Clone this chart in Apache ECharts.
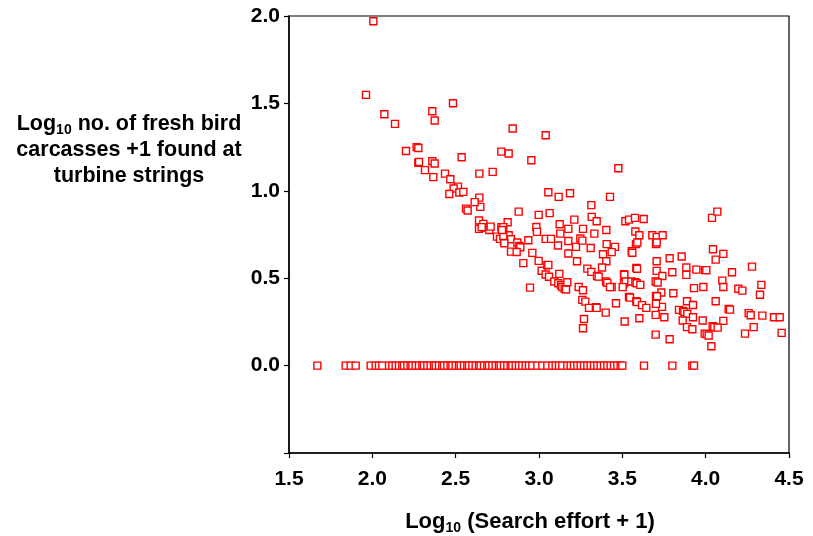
<!DOCTYPE html>
<html>
<head>
<meta charset="utf-8">
<script src="https://cdn.jsdelivr.net/npm/echarts@6/dist/echarts.min.js"></script>
<style>
  html, body { margin: 0; padding: 0; background: #fff; overflow: hidden; }
  #chart { width: 813px; height: 536px; }
</style>
</head>
<body>
<div id="chart"></div>
<script>
// Turbine strings with at least one fresh carcass: log10(search effort + 1)
const effortLog = [
  2.006, 1.962, 2.072, 2.136, 2.202, 2.266, 2.276, 2.276, 2.280, 2.360,
  2.374, 2.484, 2.360, 2.374, 2.316, 2.366, 2.436, 2.468, 2.536, 2.642,
  2.722, 2.774, 2.818, 2.842, 2.954, 3.040, 2.514, 2.488, 2.462, 2.522,
  2.546, 2.642, 3.056, 2.648, 2.614, 2.562, 2.572, 2.640, 2.666, 2.640,
  2.670, 2.702, 2.710, 2.812, 2.774, 2.786, 2.778, 2.748, 2.766, 2.790,
  2.818, 2.832, 2.870, 2.882, 2.888, 2.832, 2.866, 2.878, 2.936, 2.960,
  2.906, 2.998, 2.984, 2.988, 3.040, 2.998, 3.016, 3.040, 3.050, 3.064,
  2.946, 3.060, 3.476, 3.118, 3.186, 3.426, 3.314, 3.212, 3.316, 3.346,
  3.518, 3.540, 3.576, 3.628, 4.038, 4.070, 3.124, 3.176, 3.264, 3.404,
  3.128, 3.332, 3.578, 3.602, 3.680, 3.706, 3.742, 3.072, 3.114, 3.176,
  3.222, 3.248, 3.260, 3.310, 3.406, 3.456, 3.582, 3.590, 3.702, 3.706,
  3.176, 3.384, 3.436, 3.556, 3.560, 4.044, 4.106, 3.056, 3.228, 3.404,
  3.706, 3.784, 3.856, 4.060, 3.122, 3.290, 3.314, 3.378, 3.348, 3.358,
  3.510, 3.512, 3.584, 3.588, 3.706, 3.740, 3.800, 3.884, 3.884, 3.944,
  3.996, 4.004, 4.158, 4.278, 3.092, 3.116, 3.132, 3.140, 3.154, 3.162,
  3.170, 3.238, 3.264, 3.402, 3.410, 3.436, 3.426, 3.510, 3.520, 3.554,
  3.578, 3.586, 3.608, 3.502, 3.700, 3.712, 3.734, 3.806, 3.930, 3.986,
  4.100, 4.106, 4.196, 4.220, 4.326, 4.334, 3.260, 3.278, 3.300, 3.342,
  3.346, 3.400, 3.462, 3.540, 3.546, 3.584, 3.588, 3.618, 3.644, 3.702,
  3.708, 3.738, 3.888, 3.924, 3.840, 3.864, 3.872, 3.890, 3.924, 3.862,
  4.060, 4.138, 4.146, 3.982, 4.106, 4.258, 4.270, 4.340, 4.410, 4.444,
  4.456, 4.236, 4.288, 4.042, 4.052, 4.072, 3.994, 4.006, 4.018, 4.034,
  3.888, 3.920, 3.784, 3.700, 3.602, 3.514, 3.270, 3.264, 3.702, 3.752,
  3.700, 2.786, 2.792, 2.778, 2.656
];

// log10(number of fresh carcasses + 1), same order as effortLog
const carcassLog = [
  1.970, 1.549, 1.438, 1.383, 1.228, 1.250, 1.245, 1.160, 1.165, 1.455,
  1.402, 1.501, 1.169, 1.156, 1.118, 1.078, 1.098, 1.066, 1.192, 1.098,
  1.108, 1.224, 1.213, 1.356, 1.175, 1.318, 1.024, 1.013, 0.982, 0.990,
  0.994, 0.961, 0.992, 0.908, 0.935, 0.898, 0.887, 0.830, 0.811, 0.782,
  0.790, 0.776, 0.795, 0.820, 0.792, 0.792, 0.767, 0.738, 0.725, 0.708,
  0.746, 0.723, 0.704, 0.685, 0.677, 0.652, 0.650, 0.881, 0.717, 0.645,
  0.586, 0.862, 0.793, 0.765, 0.725, 0.599, 0.543, 0.521, 0.574, 0.872,
  0.446, 0.508, 1.129, 0.965, 0.986, 0.965, 0.918, 0.835, 0.851, 0.826,
  0.826, 0.835, 0.845, 0.839, 0.845, 0.881, 0.809, 0.782, 0.782, 0.776,
  0.755, 0.755, 0.767, 0.746, 0.746, 0.735, 0.746, 0.725, 0.687, 0.713,
  0.679, 0.727, 0.715, 0.673, 0.695, 0.679, 0.695, 0.704, 0.695, 0.704,
  0.641, 0.637, 0.649, 0.654, 0.646, 0.666, 0.639, 0.576, 0.597, 0.597,
  0.597, 0.614, 0.624, 0.606, 0.525, 0.555, 0.536, 0.561, 0.513, 0.509,
  0.523, 0.519, 0.559, 0.554, 0.542, 0.513, 0.534, 0.561, 0.519, 0.549,
  0.546, 0.546, 0.534, 0.566, 0.481, 0.471, 0.460, 0.449, 0.440, 0.435,
  0.477, 0.450, 0.431, 0.481, 0.473, 0.450, 0.449, 0.471, 0.481, 0.481,
  0.477, 0.471, 0.462, 0.449, 0.481, 0.475, 0.418, 0.414, 0.443, 0.450,
  0.486, 0.450, 0.440, 0.429, 0.405, 0.462, 0.376, 0.366, 0.330, 0.334,
  0.330, 0.303, 0.357, 0.393, 0.389, 0.368, 0.363, 0.346, 0.330, 0.399,
  0.397, 0.336, 0.368, 0.347, 0.319, 0.313, 0.307, 0.296, 0.277, 0.258,
  0.368, 0.324, 0.320, 0.258, 0.256, 0.300, 0.288, 0.286, 0.277, 0.277,
  0.187, 0.183, 0.220, 0.225, 0.221, 0.217, 0.183, 0.180, 0.172, 0.111,
  0.220, 0.208, 0.151, 0.177, 0.271, 0.252, 0.267, 0.214, 0.353, 0.277,
  0.290, 0.742, 0.700, 0.776, 0.792
];

// Strings where no fresh carcass was found (y = 0): log10(search effort + 1)
const zeroEffortLog = [
  1.67, 1.84, 1.87, 1.90, 1.99, 2.02, 2.04, 2.06, 2.10, 2.12,
  2.14, 2.16, 2.18, 2.19, 2.21, 2.23, 2.24, 2.26, 2.28, 2.30,
  2.31, 2.33, 2.35, 2.37, 2.38, 2.40, 2.42, 2.43, 2.45, 2.47,
  2.48, 2.50, 2.52, 2.53, 2.55, 2.57, 2.58, 2.60, 2.62, 2.64,
  2.65, 2.67, 2.69, 2.70, 2.72, 2.74, 2.76, 2.77, 2.79, 2.81,
  2.83, 2.84, 2.86, 2.88, 2.90, 2.92, 2.94, 2.96, 2.99, 3.02,
  3.05, 3.08, 3.10, 3.12, 3.14, 3.17, 3.19, 3.21, 3.23, 3.25,
  3.27, 3.29, 3.31, 3.33, 3.35, 3.37, 3.39, 3.41, 3.43, 3.45,
  3.47, 3.49, 3.50, 3.63, 3.80, 3.92, 3.93
];

const xTicks = [1.5, 2.0, 2.5, 3.0, 3.5, 4.0, 4.5];
const yTicks = [0.0, 0.5, 1.0, 1.5, 2.0];

const points = zeroEffortLog.map(x => [x, 0])
  .concat(effortLog.map((x, i) => [x, carcassLog[i]]));

const FONT = 'Arial, "Liberation Sans", Helvetica, sans-serif';
const labelStyle = { color: '#000', fontWeight: 'bold', fontSize: 21, fontFamily: FONT };

const chart = echarts.init(document.getElementById('chart'), null,
  { renderer: 'canvas', width: 813, height: 536 });
chart.setOption({
  animation: false,
  backgroundColor: '#fff',
  grid: {
    left: 289, width: 500, top: 16, height: 437,
    outerBoundsMode: 'none',
    containLabel: false,
    show: true, borderColor: '#000', borderWidth: 1.2, backgroundColor: 'transparent'
  },
  xAxis: {
    type: 'value',
    min: xTicks[0], max: xTicks[xTicks.length - 1], interval: 0.5,
    axisLine: { show: true, onZero: false, lineStyle: { color: '#000', width: 1.5 } },
    axisTick: { show: true, length: 5, lineStyle: { color: '#000', width: 1.2 } },
    splitLine: { show: false },
    axisLabel: Object.assign({ margin: 16, formatter: v => v.toFixed(1) }, labelStyle),
    name: '{b|Log}{s|10}{b| (Search effort + 1)}',
    nameLocation: 'middle',
    nameGap: 56,
    nameTextStyle: {
      padding: [0, 18, 0, 0],
      rich: {
        b: { fontSize: 22, fontWeight: 'bold', fontFamily: FONT, color: '#000', lineHeight: 26 },
        s: { fontSize: 14, fontWeight: 'bold', fontFamily: FONT, color: '#000', lineHeight: 26, padding: [12, 0, 0, 0] }
      }
    }
  },
  yAxis: {
    type: 'value',
    min: -0.5, max: yTicks[yTicks.length - 1], interval: 0.5,
    axisLine: { show: true, onZero: false, lineStyle: { color: '#000', width: 1.5 } },
    axisTick: { show: true, length: 5, lineStyle: { color: '#000', width: 1.2 } },
    splitLine: { show: false },
    axisLabel: Object.assign({
      margin: 9,
      padding: [4, 0, 0, 0],
      formatter: v => (v < 0 ? '' : v.toFixed(1))
    }, labelStyle)
  },
  graphic: [{
    type: 'text',
    x: 129,
    y: 111,
    style: {
      text: '{b|Log}{s|10}{b| no. of fresh bird}\n{b|carcasses +1 found at}\n{b|turbine strings}',
      align: 'center',
      verticalAlign: 'top',
      rich: {
        b: { fontSize: 21.5, fontWeight: 'bold', fontFamily: FONT, fill: '#000', lineHeight: 26 },
        s: { fontSize: 14, fontWeight: 'bold', fontFamily: FONT, fill: '#000', lineHeight: 26, padding: [12, 0, 0, 0] }
      }
    }
  }],
  series: [{
    type: 'scatter',
    data: points,
    symbol: 'rect',
    symbolSize: 7,
    itemStyle: { color: '#fff', borderColor: '#ff0000', borderWidth: 1.4, opacity: 1 },
    emphasis: { disabled: true }
  }]
});
</script>
</body>
</html>
